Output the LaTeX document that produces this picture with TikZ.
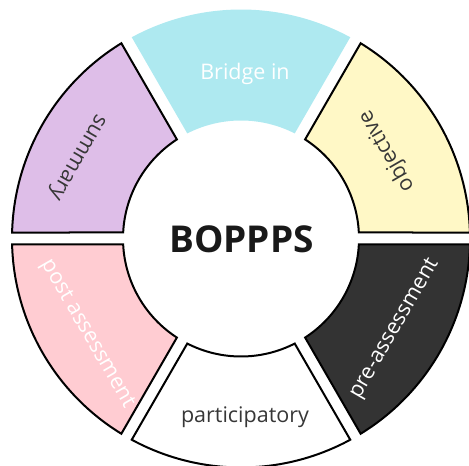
\documentclass[tikz,border=0pt]{standalone}
\usepackage{fontspec}
\setmainfont{Open Sans}
\usetikzlibrary{calc}

\definecolor{bridgecol}{RGB}{174,233,240}
\definecolor{summarycol}{RGB}{222,190,232}
\definecolor{objectivecol}{RGB}{255,248,198}
\definecolor{postcol}{RGB}{255,204,210}
\definecolor{precol}{RGB}{51,51,51}
\definecolor{labelgray}{RGB}{55,55,55}

% ring geometry (units: pt)
\newcommand{\RingOuter}{229}
\newcommand{\RingInner}{118}
\newcommand{\RingGap}{6}

% one ring sector between angles #2 and #3, separated from its
% neighbours by a strip of constant width 2*\RingGap
\newcommand{\ringpart}[3]{%
  \pgfmathsetmacro\rpdo{asin(\RingGap/\RingOuter)}%
  \pgfmathsetmacro\rpdi{asin(\RingGap/\RingInner)}%
  \pgfmathsetmacro\rpao{#2+\rpdo}\pgfmathsetmacro\rpbo{#3-\rpdo}%
  \pgfmathsetmacro\rpai{#2+\rpdi}\pgfmathsetmacro\rpbi{#3-\rpdi}%
  \path[#1] ($(O)+(\rpao:\RingOuter pt)$)
    arc[start angle=\rpao, end angle=\rpbo, radius=\RingOuter pt]
    -- ($(O)+(\rpbi:\RingInner pt)$)
    arc[start angle=\rpbi, end angle=\rpai, radius=\RingInner pt]
    -- cycle;
}

\begin{document}
\begin{tikzpicture}[x=1pt,y=1pt,
  sector/.style={draw=black, line width=2pt, line join=miter},
  lbl/.style={font=\fontsize{21.5}{24}\selectfont, inner sep=0pt},
]
\useasboundingbox (0,0) rectangle (469,466);
\clip (0,0) rectangle (469,466);
\coordinate (O) at (241,227.5);

% sectors of the ring
\ringpart{fill=objectivecol, sector}{0}{60}
\ringpart{fill=bridgecol}{60}{120}
\ringpart{fill=summarycol, sector}{120}{180}
\ringpart{fill=postcol, sector}{180}{240}
\ringpart{fill=white, sector}{240}{300}
\ringpart{fill=precol, sector}{300}{360}

% labels
\node[font=\bfseries\fontsize{37}{40}\selectfont, text=black!90, anchor=base, inner sep=0pt] (title) at (241.5,213) {BOPPPS};
\node[lbl, text=white, anchor=base] (bridge) at (245,386) {Bridge in};
\node[lbl, text=labelgray, rotate=120] (objective) at (387,315) {objective};
\node[lbl, text=labelgray, rotate=240] (summary) at (76,310) {summary};
\node[lbl, text=white, rotate=300] (post) at (87,132) {post assessment};
\node[lbl, text=labelgray, anchor=base] (particip) at (245,43) {participatory};
\node[lbl, text=white, rotate=60] (pre) at (395,137) {pre-assessment};
\end{tikzpicture}
\end{document}
